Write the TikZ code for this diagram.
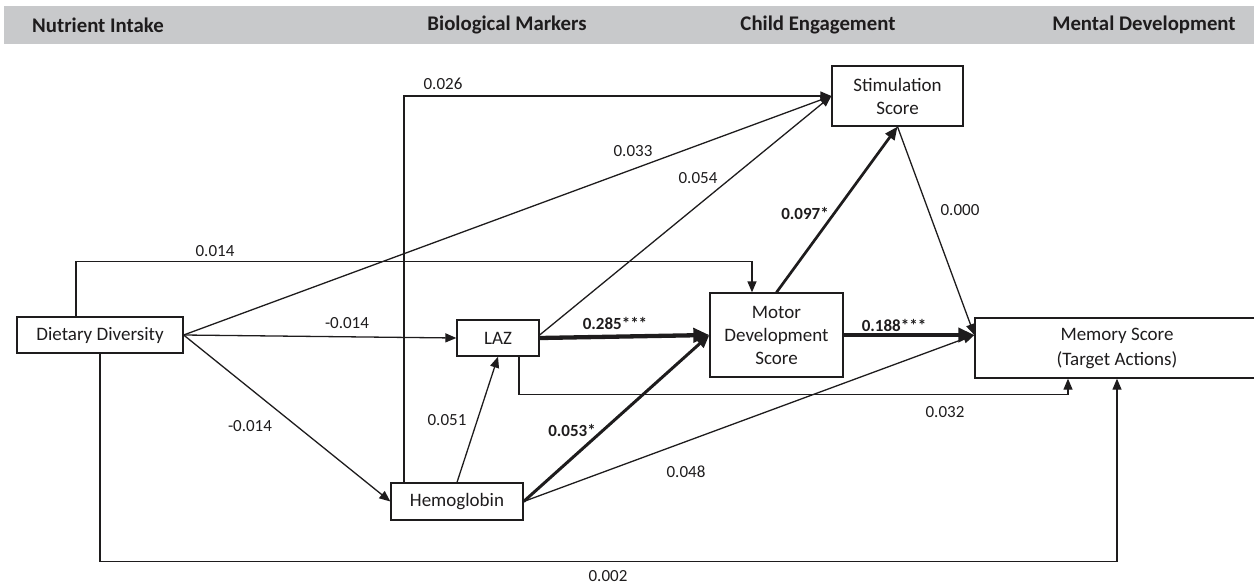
\documentclass[tikz,border=0pt]{standalone}
\usepackage{fontspec}
\setmainfont{Carlito}
\usetikzlibrary{arrows.meta}
\definecolor{barGray}{RGB}{200,201,203}
\definecolor{ink}{RGB}{30,28,29}
\tikzset{
  box/.style={draw=ink, line width=1.3pt, inner sep=0pt, align=center,
              text=ink, font=\fontsize{19}{23}\selectfont},
  head/.style={text=ink, font=\fontsize{20.8}{24}\selectfont\bfseries, inner sep=0pt},
  coef/.style={text=ink, font=\fontsize{17}{20}\selectfont, inner sep=0pt},
  coefbold/.style={coef, font=\fontsize{17}{20}\selectfont\bfseries},
  path thin/.style={draw=ink, line width=1.3pt,
              -{Triangle[length=11pt,width=9pt]}},
  path mid/.style={draw=ink, line width=2.7pt,
              -{Triangle[length=13pt,width=11pt]}},
  path thick/.style={draw=ink, line width=4.3pt,
              -{Triangle[length=16pt,width=14pt]}},
}
\begin{document}
\begin{tikzpicture}[x=1pt,y=-1pt]
\useasboundingbox (0,0) rectangle (1254,584);

% column headings
\fill[barGray] (4,6) rectangle (1254,44);
\node[head] (h1) at (98,25)   {Nutrient Intake};
\node[head] (h2) at (507,25)  {Biological Markers};
\node[head] (h3) at (818,25)  {Child Engagement};
\node[head] (h4) at (1144,25) {Mental Development};

% variables
\node[box, minimum width=166pt, minimum height=36pt] (dd)    at (100,335)   {Dietary Diversity};
\node[box, minimum width=82pt,  minimum height=36pt] (laz)   at (498,338)   {LAZ};
\node[box, minimum width=132pt, minimum height=37pt] (hemo)  at (457,501.5) {Hemoglobin};
\node[box, minimum width=133pt, minimum height=84pt] (motor) at (776.5,335) {Motor\\Development\\Score};
\node[box, minimum width=131pt, minimum height=60pt] (stim)  at (897.5,96)  {Stimulation\\Score};
\node[box, minimum width=284pt, minimum height=60pt,
      font=\fontsize{19}{25}\selectfont]             (mem)   at (1117,348)  {Memory Score\\(Target Actions)};

% paths into the stimulation score
\draw[path thin] ([xshift=-53pt]hemo.north) |- (stim.west);
\draw[path thin] (dd.east) -- (stim.west);
\draw[path thin] ([yshift=3pt]laz.east) -- (stim.west);
\draw[path mid]  (motor.north) -- (stim.south);

% paths into the motor development score
\draw[path thin] ([xshift=-24pt]dd.north) |- ([xshift=-24.5pt,yshift=31pt]motor.north)
                 -- ([xshift=-24.5pt]motor.north);
\draw[path thick] (laz.east) -- (motor.west);
\draw[path mid, line width=3pt] (hemo.east) -- (motor.west);

% paths into the biological markers
\draw[path thin] (dd.east) -- (laz.west);
\draw[path thin] (dd.east) -- (hemo.west);
\draw[path thin] (hemo.north) -- (laz.south);

% paths into the memory score
\draw[path thin] (stim.south) -- ([yshift=13pt]mem.west);
\draw[path thin] (hemo.east) -- ([yshift=13pt]mem.west);
\draw[path thick, line width=3.8pt] (motor.east) -- ([yshift=13pt]mem.west);
\draw[path thin] ([xshift=21pt]laz.south) |- ([xshift=-49pt,yshift=-16pt]mem.south)
                 -- ([xshift=-49pt]mem.south);
\draw[path thin] (dd.south) |- ([yshift=-183pt]mem.south) -- (mem.south);

% coefficients
\node[coef] (c026) at (443,84)  {0.026};
\node[coef] (c033) at (633,151) {0.033};
\node[coef] (c054) at (698,178) {0.054};
\node[coef] (c014) at (215,251) {0.014};
\node[coef] (cdl)  at (347,323) {-0.014};
\node[coef] (cdh)  at (250,426) {-0.014};
\node[coef] (c051) at (447,420) {0.051};
\node[coefbold] (c285) at (615,323) {0.285***};
\node[coefbold] (c053) at (572,430) {0.053*};
\node[coef] (c048) at (686,472) {0.048};
\node[coefbold] (c097) at (805,213) {0.097*};
\node[coef] (c000) at (960,210) {0.000};
\node[coefbold] (c188) at (894,325) {0.188***};
\node[coef] (c032) at (945,412) {0.032};
\node[coef] (c002) at (608,576) {0.002};
\end{tikzpicture}
\end{document}
